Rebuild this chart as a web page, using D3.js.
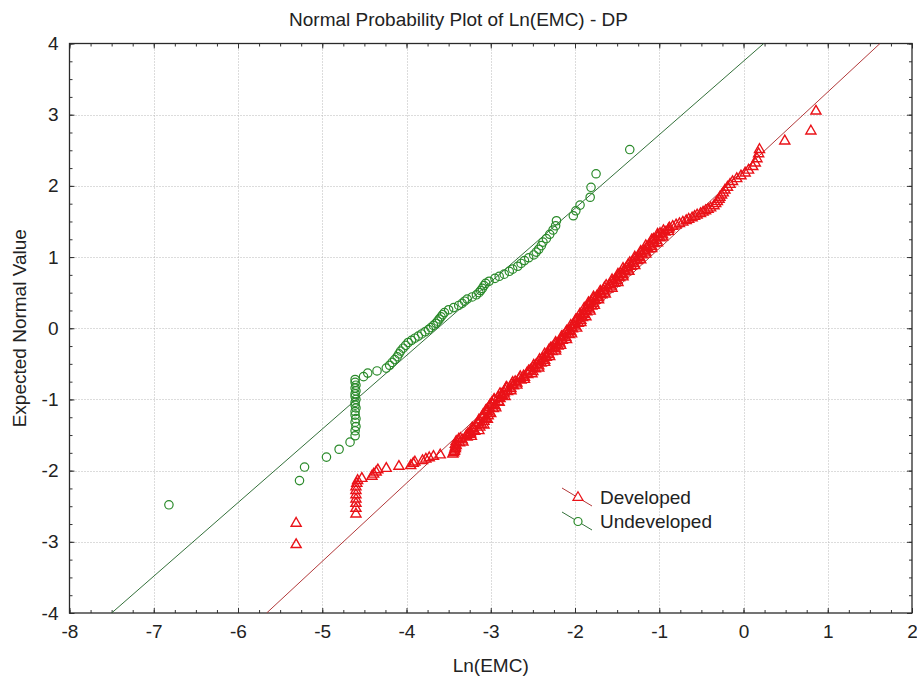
<!DOCTYPE html>
<html><head><meta charset="utf-8">
<script src="https://cdn.jsdelivr.net/npm/d3@7"></script>
<style>body{margin:0;background:#fff}svg{display:block}</style>
</head><body><svg id="c" width="917" height="681"></svg>
<script>
const chartTitle = "Normal Probability Plot of Ln(EMC) - DP";
const xLabel = "Ln(EMC)";
const yLabel = "Expected Normal Value";
const xTicks = [-8,-7,-6,-5,-4,-3,-2,-1,0,1,2];
const yTicks = [-4,-3,-2,-1,0,1,2,3,4];
const seriesNames = ["Developed","Undeveloped"];

// [Ln(EMC), expected normal value]
const developed = [
[-5.31,-3.04],[-5.31,-2.74],[-4.60,-2.61],[-4.60,-2.53],[-4.60,-2.46],[-4.60,-2.40],[-4.60,-2.34],[-4.60,-2.28],[-4.60,-2.23],[-4.59,-2.18],[-4.58,-2.14],[-4.53,-2.11],[-4.41,-2.08],[-4.39,-2.05],[-4.36,-2.02],[-4.34,-1.99],[-4.24,-1.97],[-4.09,-1.94],[-3.95,-1.93],[-3.92,-1.90],[-3.90,-1.88],[-3.81,-1.86],[-3.77,-1.84],[-3.73,-1.82],[-3.68,-1.80],[-3.60,-1.78],[-3.45,-1.77],[-3.44,-1.75],[-3.43,-1.73],[-3.43,-1.71],[-3.42,-1.69],[-3.42,-1.67],[-3.41,-1.65],
[-3.42,-1.63],[-3.37,-1.61],[-3.41,-1.59],[-3.34,-1.57],[-3.36,-1.55],[-3.28,-1.53],[-3.29,-1.51],[-3.24,-1.49],[-3.24,-1.47],[-3.19,-1.45],[-3.20,-1.43],[-3.21,-1.41],[-3.13,-1.39],[-3.18,-1.37],[-3.11,-1.35],[-3.14,-1.33],[-3.08,-1.31],[-3.14,-1.29],[-3.06,-1.27],[-3.09,-1.25],[-3.03,-1.23],[-3.09,-1.21],[-3.01,-1.19],[-3.04,-1.17],[-3.05,-1.15],[-2.97,-1.13],[-3.02,-1.11],[-2.95,-1.09],[-2.98,-1.07],[-2.99,-1.05],[-2.91,-1.03],[-2.96,-1.01],[-2.89,-0.99],[-2.91,-0.97],[-2.86,-0.95],[-2.87,-0.93],[-2.84,-0.91],[-2.80,-0.89],[-2.83,-0.87],[-2.76,-0.85],[-2.81,-0.83],[-2.73,-0.81],[-2.75,-0.79],[-2.69,-0.77],[-2.71,-0.75],[-2.64,-0.73],[-2.66,-0.71],[-2.60,-0.69],[-2.61,-0.67],[-2.56,-0.65],[-2.57,-0.63],[-2.50,-0.61],[-2.53,-0.59],[-2.47,-0.57],[-2.50,-0.55],[-2.43,-0.53],[-2.46,-0.51],[-2.40,-0.49],[-2.43,-0.47],[-2.36,-0.45],[-2.39,-0.43],[-2.34,-0.41],[-2.35,-0.39],[-2.31,-0.37],[-2.32,-0.35],[-2.27,-0.33],[-2.31,-0.31],[-2.23,-0.29],[-2.27,-0.27],[-2.20,-0.25],[-2.23,-0.23],[-2.18,-0.21],[-2.19,-0.19],[-2.15,-0.17],[-2.16,-0.15],[-2.11,-0.13],[-2.14,-0.11],[-2.07,-0.09],[-2.11,-0.07],[-2.05,-0.05],[-2.07,-0.03],[-2.03,-0.01],[-2.04,0.01],[-2.00,0.03],[-2.02,0.05],[-1.96,0.07],[-2.00,0.09],[-1.93,0.11],[-1.97,0.13],[-1.91,0.15],[-1.93,0.17],[-1.89,0.19],[-1.90,0.21],[-1.86,0.23],[-1.88,0.25],[-1.83,0.27],[-1.86,0.29],[-1.80,0.31],[-1.84,0.33],[-1.78,0.35],[-1.81,0.37],[-1.76,0.39],[-1.78,0.41],[-1.72,0.43],[-1.74,0.45],[-1.68,0.47],[-1.70,0.49],[-1.65,0.51],[-1.66,0.53],[-1.61,0.55],[-1.65,0.57],[-1.57,0.59],[-1.59,0.61],[-1.53,0.63],[-1.56,0.65],[-1.50,0.67],[-1.52,0.69],[-1.47,0.71],[-1.49,0.73],[-1.43,0.75],[-1.46,0.77],[-1.40,0.79],[-1.42,0.81],[-1.37,0.83],[-1.39,0.85],[-1.33,0.87],[-1.37,0.89],[-1.30,0.91],[-1.32,0.93],[-1.26,0.95],[-1.29,0.97],[-1.23,0.99],[-1.25,1.01],[-1.20,1.03],[-1.22,1.05],[-1.16,1.07],[-1.18,1.09],[-1.13,1.11],[-1.15,1.13],[-1.09,1.15],[-1.12,1.17],[-1.06,1.19],[-1.08,1.21],[-1.03,1.23],[-1.07,1.25],[-0.99,1.27],[-1.02,1.29],[-0.96,1.31],[-0.99,1.33],[-0.93,1.35],[-0.95,1.37],[-0.89,1.39],
[-0.88,1.41],[-0.84,1.43],[-0.80,1.45],[-0.76,1.47],[-0.72,1.49],[-0.68,1.51],[-0.65,1.53],[-0.61,1.55],[-0.58,1.57],[-0.55,1.59],[-0.51,1.61],[-0.48,1.63],[-0.45,1.65],[-0.42,1.67],[-0.39,1.69],[-0.35,1.72],[-0.33,1.75],[-0.31,1.78],[-0.29,1.81],[-0.28,1.84],[-0.26,1.87],[-0.24,1.90],[-0.22,1.94],[-0.19,1.98],[-0.16,2.02],[-0.13,2.06],[-0.08,2.10],[-0.03,2.14],[0.02,2.18],[0.06,2.22],[0.11,2.27],[0.14,2.32],[0.16,2.38],[0.18,2.45],[0.19,2.51],[0.49,2.63],[0.80,2.77],[0.86,3.05],
// denser core of the band
[-3.33,-1.60],[-3.38,-1.56],[-3.23,-1.52],[-3.27,-1.48],[-3.14,-1.44],[-3.22,-1.40],[-3.08,-1.36],[-3.15,-1.32],[-3.04,-1.28],[-3.10,-1.24],[-3.00,-1.20],[-3.06,-1.16],[-2.94,-1.12],[-3.01,-1.08],[-2.90,-1.04],[-2.96,-1.00],[-2.83,-0.96],[-2.89,-0.92],[-2.76,-0.88],[-2.82,-0.84],[-2.69,-0.80],[-2.74,-0.76],[-2.60,-0.72],[-2.65,-0.68],[-2.51,-0.64],[-2.55,-0.60],[-2.43,-0.56],[-2.49,-0.52],[-2.36,-0.48],[-2.42,-0.44],[-2.30,-0.40],[-2.36,-0.36],[-2.23,-0.32],[-2.29,-0.28],[-2.17,-0.24],[-2.23,-0.20],[-2.10,-0.16],[-2.16,-0.12],[-2.04,-0.08],[-2.10,-0.04],[-1.98,0.00],[-2.05,0.04],[-1.93,0.08],[-1.99,0.12],[-1.87,0.16],[-1.94,0.20],[-1.82,0.24],[-1.89,0.28],[-1.77,0.32],[-1.84,0.36],[-1.72,0.40],[-1.78,0.44],[-1.64,0.48],[-1.70,0.52],[-1.56,0.56],[-1.63,0.60],[-1.49,0.64],[-1.56,0.68],[-1.43,0.72],[-1.49,0.76],[-1.36,0.80],[-1.43,0.84],[-1.29,0.88],[-1.35,0.92],[-1.22,0.96],[-1.29,1.00],[-1.16,1.04],[-1.22,1.08],[-1.09,1.12],[-1.16,1.16],[-1.02,1.20],[-1.09,1.24],[-0.96,1.28],[-1.02,1.32],[-0.89,1.36]
];

const undeveloped = [
[-6.82,-2.48],[-5.27,-2.14],[-5.21,-1.95],[-4.95,-1.81],[-4.80,-1.70],[-4.67,-1.60],
[-4.61,-1.51],[-4.61,-1.44],[-4.60,-1.38],[-4.61,-1.32],[-4.60,-1.27],[-4.61,-1.22],[-4.61,-1.17],[-4.60,-1.12],[-4.61,-1.08],[-4.61,-1.04],[-4.60,-1.00],[-4.61,-0.96],[-4.61,-0.92],[-4.60,-0.88],[-4.61,-0.84],[-4.60,-0.80],[-4.61,-0.76],[-4.61,-0.72],
[-4.51,-0.68],[-4.46,-0.63],[-4.35,-0.60],
[-4.24,-0.56],[-4.20,-0.52],[-4.17,-0.48],[-4.14,-0.44],[-4.11,-0.40],[-4.09,-0.36],[-4.07,-0.32],[-4.04,-0.28],[-4.01,-0.24],[-3.98,-0.20],[-3.94,-0.17],[-3.90,-0.14],[-3.86,-0.11],[-3.82,-0.08],[-3.78,-0.05],[-3.74,-0.02],[-3.71,0.01],[-3.68,0.04],[-3.65,0.07],[-3.63,0.10],[-3.61,0.13],[-3.59,0.16],[-3.57,0.19],[-3.55,0.22],[-3.50,0.26],[-3.44,0.29],[-3.38,0.32],[-3.34,0.35],[-3.31,0.38],[-3.28,0.41],[-3.22,0.44],[-3.17,0.47],[-3.14,0.50],[-3.12,0.53],[-3.10,0.56],[-3.08,0.60],[-3.06,0.63],[-3.02,0.66],[-2.95,0.70],[-2.90,0.73],[-2.84,0.76],[-2.78,0.80],[-2.74,0.83],[-2.68,0.87],[-2.64,0.91],[-2.60,0.95],[-2.55,0.99],[-2.49,1.03],[-2.46,1.07],[-2.43,1.11],[-2.40,1.16],[-2.38,1.21],[-2.34,1.26],[-2.30,1.32],[-2.26,1.38],[-2.23,1.44],[-2.22,1.51],[-2.02,1.58],[-1.99,1.65],[-1.94,1.73],[-1.82,1.84],[-1.81,1.98],[-1.75,2.17],[-1.35,2.51]
];

// fitted normal lines: endpoints [x, y]
const developedFit = [[-5.66,-4],[1.62,4]];
const undevelopedFit = [[-7.50,-4],[0.24,4]];

const FONT = "'Liberation Sans', Arial, Helvetica, sans-serif";
const RED = "#ea1218", RED_LINE = "#b2393a", GREEN = "#2a8a2a", GREEN_LINE = "#33703a";
const L = 69.5, R = 912, T = 43.5, B = 613;

const svg = d3.select("#c");
const x = d3.scaleLinear().domain([-8, 2]).range([L, R]);
const y = d3.scaleLinear().domain([-4, 4]).range([B, T]);

svg.append("rect").attr("width", 917).attr("height", 681).attr("fill", "#fff");

// grid
const grid = svg.append("g").attr("stroke", "#b8b8b8").attr("stroke-dasharray", "1,2").attr("stroke-width", 1);
grid.selectAll(".gx").data(xTicks.slice(1, -1)).join("line")
  .attr("x1", d => Math.round(x(d)) + 0.5).attr("x2", d => Math.round(x(d)) + 0.5)
  .attr("y1", T).attr("y2", B);
grid.selectAll(".gy").data(yTicks.slice(1, -1)).join("line")
  .attr("y1", d => Math.round(y(d)) + 0.5).attr("y2", d => Math.round(y(d)) + 0.5)
  .attr("x1", L).attr("x2", R);

const minorX = d3.range(-8, 2.001, 0.25);
const minorY = d3.range(-4, 4.001, 0.25);

function styleAxis(g) {
  g.select(".domain").remove();
  g.selectAll("line").attr("stroke", "#333");
  g.selectAll("text").attr("font-family", FONT).attr("font-size", 19).attr("fill", "#222");
}

// bottom
svg.append("g").attr("transform", `translate(0,${B})`)
  .call(d3.axisBottom(x).tickValues(minorX).tickSize(-3).tickFormat("")).call(styleAxis);
svg.append("g").attr("transform", `translate(0,${B})`)
  .call(d3.axisBottom(x).tickValues(xTicks).tickSize(-5).tickPadding(12).tickFormat(d3.format("d"))).call(styleAxis);
// top
svg.append("g").attr("transform", `translate(0,${T})`)
  .call(d3.axisTop(x).tickValues(minorX).tickSize(-3).tickFormat("")).call(styleAxis);
svg.append("g").attr("transform", `translate(0,${T})`)
  .call(d3.axisTop(x).tickValues(xTicks).tickSize(-5).tickFormat("")).call(styleAxis);
// left
svg.append("g").attr("transform", `translate(${L},0)`)
  .call(d3.axisLeft(y).tickValues(minorY).tickSize(-3).tickFormat("")).call(styleAxis);
svg.append("g").attr("transform", `translate(${L},0)`)
  .call(d3.axisLeft(y).tickValues(yTicks).tickSize(-5).tickPadding(11).tickFormat(d3.format("d"))).call(styleAxis);
// right
svg.append("g").attr("transform", `translate(${R},0)`)
  .call(d3.axisRight(y).tickValues(minorY).tickSize(-3).tickFormat("")).call(styleAxis);
svg.append("g").attr("transform", `translate(${R},0)`)
  .call(d3.axisRight(y).tickValues(yTicks).tickSize(-5).tickFormat("")).call(styleAxis);

// hyphen-minus like the reference
svg.selectAll("text").each(function() { const t = d3.select(this); t.text(t.text().replace("\u2212", "-")); });

// frame
svg.append("rect").attr("x", L).attr("y", T).attr("width", R - L).attr("height", B - T)
  .attr("fill", "none").attr("stroke", "#2a2a2a").attr("stroke-width", 1.3);

// clip
svg.append("clipPath").attr("id", "clip").append("rect")
  .attr("x", L).attr("y", T).attr("width", R - L).attr("height", B - T);
const plot = svg.append("g").attr("clip-path", "url(#clip)");

const line = d3.line().x(d => x(d[0])).y(d => y(d[1]));
plot.append("path").datum(undevelopedFit).attr("d", line).attr("fill", "none").attr("stroke", GREEN_LINE).attr("stroke-width", 1);
plot.append("path").datum(developedFit).attr("d", line).attr("fill", "none").attr("stroke", RED_LINE).attr("stroke-width", 1);

const tri = d3.symbol(d3.symbolTriangle, 44);
plot.append("g").selectAll("circle").data(undeveloped).join("circle")
  .attr("cx", d => x(d[0])).attr("cy", d => y(d[1])).attr("r", 4.2)
  .attr("fill", "none").attr("stroke", GREEN).attr("stroke-width", 1.2);
plot.append("g").selectAll("path").data(developed).join("path")
  .attr("d", tri).attr("transform", d => `translate(${x(d[0])},${y(d[1])})`)
  .attr("fill", "none").attr("stroke", RED).attr("stroke-width", 1.4);

// legend
const lg = svg.append("g").attr("transform", "translate(562,488)");
const legendItems = [
  {name: seriesNames[0], color: RED_LINE, mcolor: RED, kind: "tri"},
  {name: seriesNames[1], color: GREEN_LINE, mcolor: GREEN, kind: "circ"}
];
legendItems.forEach((it, i) => {
  const g = lg.append("g").attr("transform", `translate(0,${i * 24})`);
  g.append("line").attr("x1", 0).attr("y1", 0).attr("x2", 30).attr("y2", 18).attr("stroke", it.color).attr("stroke-width", 1);
  if (it.kind === "tri") {
    g.append("path").attr("d", tri).attr("transform", "translate(16,9.5)").attr("fill", "#fff").attr("stroke", it.mcolor).attr("stroke-width", 1.2);
  } else {
    g.append("circle").attr("cx", 16).attr("cy", 9.5).attr("r", 4).attr("fill", "#fff").attr("stroke", it.mcolor).attr("stroke-width", 1.2);
  }
  g.append("text").attr("x", 38).attr("y", 16).text(it.name)
    .attr("font-family", FONT).attr("font-size", 19).attr("fill", "#222");
});

// titles
svg.append("text").attr("x", 458.5).attr("y", 26).attr("text-anchor", "middle")
  .attr("font-family", FONT).attr("font-size", 19).attr("fill", "#222").text(chartTitle);
svg.append("text").attr("x", (L + R) / 2).attr("y", 672).attr("text-anchor", "middle")
  .attr("font-family", FONT).attr("font-size", 19).attr("fill", "#222").text(xLabel);
svg.append("text").attr("transform", `translate(26,${(T + B) / 2}) rotate(-90)`).attr("text-anchor", "middle")
  .attr("font-family", FONT).attr("font-size", 19).attr("fill", "#222").text(yLabel);
</script></body></html>
